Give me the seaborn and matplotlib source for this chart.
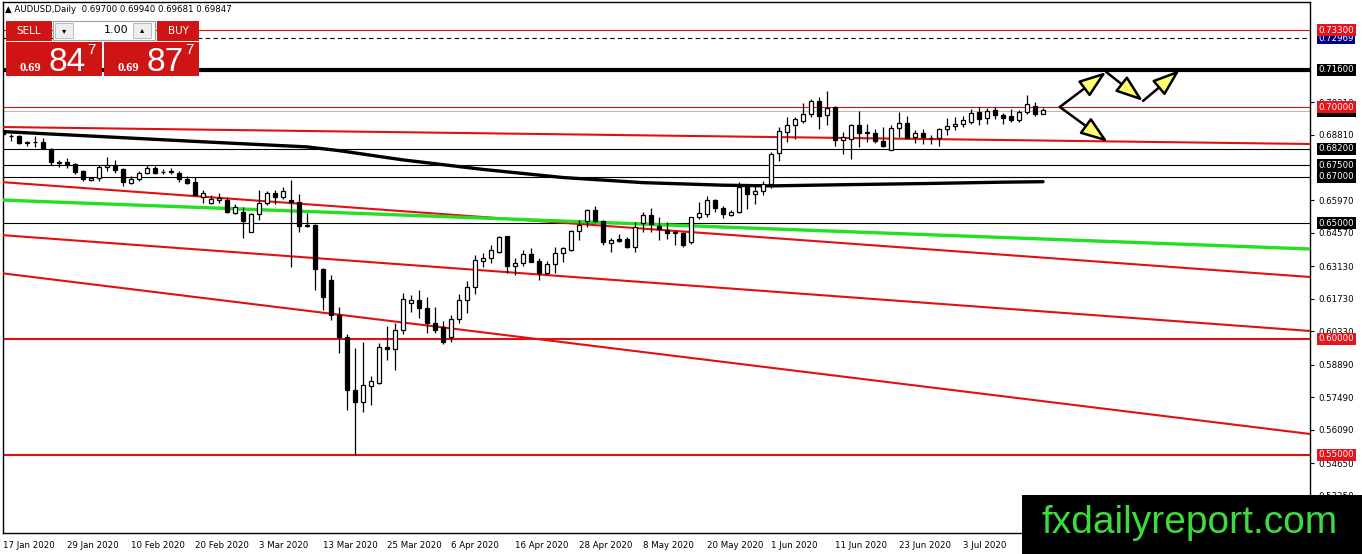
import numpy as np
import pandas as pd
import matplotlib
matplotlib.use("Agg")
import matplotlib.pyplot as plt
from matplotlib.patches import Rectangle
import seaborn as sns

# AUDUSD daily candles, 17 Jan 2020 -> 17 Jul 2020
opens = [0.6899, 0.6874, 0.6875, 0.6847, 0.6847, 0.6849, 0.6819, 0.6761, 0.6763, 0.6754,
         0.6724, 0.6684, 0.6694, 0.6741, 0.6747, 0.6733, 0.6671, 0.6688, 0.6714, 0.6738,
         0.6721, 0.6725, 0.6717, 0.6690, 0.6675, 0.6610, 0.6585, 0.6599, 0.6601, 0.6541,
         0.6549, 0.6463, 0.6538, 0.6588, 0.6631, 0.6614, 0.6599, 0.6592, 0.6493, 0.6491,
         0.6300, 0.6254, 0.6103, 0.6010, 0.5780, 0.5730, 0.5799, 0.5811, 0.5966, 0.5955,
         0.6039, 0.6154, 0.6168, 0.6132, 0.6070, 0.6053, 0.6010, 0.6085, 0.6168, 0.6226,
         0.6338, 0.6348, 0.6376, 0.6444, 0.6316, 0.6326, 0.6365, 0.6336, 0.6283, 0.6323,
         0.6369, 0.6384, 0.6466, 0.6509, 0.6556, 0.6510, 0.6412, 0.6430, 0.6430, 0.6398,
         0.6498, 0.6534, 0.6487, 0.6470, 0.6463, 0.6458, 0.6419, 0.6527, 0.6539, 0.6599,
         0.6563, 0.6535, 0.6546, 0.6657, 0.6624, 0.6636, 0.6667, 0.6800, 0.6894, 0.6922,
         0.6941, 0.6968, 0.7026, 0.6966, 0.7002, 0.6858, 0.6862, 0.6922, 0.6893, 0.6887,
         0.6853, 0.6815, 0.6908, 0.6930, 0.6869, 0.6887, 0.6866, 0.6865, 0.6904, 0.6918,
         0.6927, 0.6934, 0.6977, 0.6951, 0.6987, 0.6966, 0.6961, 0.6944, 0.6977, 0.7006,
         0.6970]
highs = [0.6905, 0.6884, 0.6880, 0.6855, 0.6875, 0.6866, 0.6822, 0.6772, 0.6781, 0.6758,
         0.6728, 0.6699, 0.6750, 0.6785, 0.6772, 0.6737, 0.6703, 0.6724, 0.6751, 0.6746,
         0.6733, 0.6736, 0.6724, 0.6703, 0.6698, 0.6642, 0.6621, 0.6631, 0.6610, 0.6580,
         0.6571, 0.6545, 0.6642, 0.6640, 0.6642, 0.6657, 0.6685, 0.6625, 0.6543, 0.6495,
         0.6305, 0.6276, 0.6138, 0.6023, 0.5961, 0.5987, 0.5840, 0.5981, 0.6058, 0.6069,
         0.6200, 0.6190, 0.6211, 0.6181, 0.6138, 0.6076, 0.6105, 0.6194, 0.6250, 0.6362,
         0.6369, 0.6405, 0.6444, 0.6446, 0.6349, 0.6384, 0.6393, 0.6349, 0.6336, 0.6396,
         0.6395, 0.6470, 0.6513, 0.6560, 0.6574, 0.6515, 0.6434, 0.6453, 0.6440, 0.6505,
         0.6549, 0.6563, 0.6526, 0.6505, 0.6466, 0.6462, 0.6528, 0.6590, 0.6616, 0.6603,
         0.6574, 0.6556, 0.6677, 0.6670, 0.6665, 0.6680, 0.6806, 0.6914, 0.6957, 0.6957,
         0.7016, 0.7034, 0.7043, 0.7069, 0.7006, 0.6893, 0.6925, 0.6983, 0.6925, 0.6905,
         0.6912, 0.6922, 0.6977, 0.6963, 0.6901, 0.6905, 0.6879, 0.6911, 0.6951, 0.6958,
         0.6963, 0.6991, 0.7001, 0.6994, 0.6999, 0.6973, 0.6991, 0.6986, 0.7053, 0.7020,
         0.6994]
lows = [0.6876, 0.6853, 0.6841, 0.6832, 0.6829, 0.6818, 0.6750, 0.6741, 0.6737, 0.6711,
        0.6681, 0.6679, 0.6681, 0.6724, 0.6716, 0.6660, 0.6667, 0.6683, 0.6711, 0.6711,
        0.6711, 0.6713, 0.6676, 0.6669, 0.6616, 0.6586, 0.6582, 0.6586, 0.6541, 0.6537,
        0.6434, 0.6460, 0.6513, 0.6578, 0.6582, 0.6603, 0.6312, 0.6462, 0.6484, 0.6211,
        0.6125, 0.6082, 0.5940, 0.5694, 0.5500, 0.5685, 0.5715, 0.5804, 0.5911, 0.5867,
        0.6021, 0.6115, 0.6089, 0.6024, 0.6024, 0.5979, 0.5988, 0.6070, 0.6110, 0.6194,
        0.6312, 0.6326, 0.6370, 0.6285, 0.6277, 0.6315, 0.6330, 0.6254, 0.6280, 0.6283,
        0.6333, 0.6380, 0.6427, 0.6482, 0.6505, 0.6404, 0.6376, 0.6420, 0.6393, 0.6376,
        0.6462, 0.6462, 0.6427, 0.6433, 0.6404, 0.6398, 0.6408, 0.6518, 0.6527, 0.6549,
        0.6522, 0.6531, 0.6541, 0.6560, 0.6584, 0.6620, 0.6650, 0.6769, 0.6849, 0.6862,
        0.6930, 0.6958, 0.6905, 0.6922, 0.6832, 0.6797, 0.6775, 0.6829, 0.6851, 0.6843,
        0.6826, 0.6815, 0.6872, 0.6865, 0.6843, 0.6839, 0.6839, 0.6832, 0.6879, 0.6901,
        0.6915, 0.6925, 0.6922, 0.6925, 0.6947, 0.6925, 0.6935, 0.6935, 0.6970, 0.6963,
        0.6968]
closes = [0.6884, 0.6876, 0.6845, 0.6846, 0.6849, 0.6825, 0.6762, 0.6759, 0.6750, 0.6721,
          0.6690, 0.6695, 0.6741, 0.6750, 0.6728, 0.6675, 0.6690, 0.6714, 0.6738, 0.6717,
          0.6718, 0.6719, 0.6689, 0.6674, 0.6621, 0.6628, 0.6603, 0.6609, 0.6546, 0.6570,
          0.6510, 0.6539, 0.6585, 0.6628, 0.6614, 0.6638, 0.6590, 0.6488, 0.6489, 0.6300,
          0.6182, 0.6103, 0.6010, 0.5780, 0.5730, 0.5802, 0.5819, 0.5966, 0.5955, 0.6039,
          0.6172, 0.6168, 0.6132, 0.6067, 0.6039, 0.5986, 0.6085, 0.6168, 0.6226, 0.6341,
          0.6348, 0.6384, 0.6441, 0.6315, 0.6326, 0.6365, 0.6333, 0.6283, 0.6322, 0.6369,
          0.6391, 0.6466, 0.6491, 0.6556, 0.6509, 0.6419, 0.6427, 0.6422, 0.6398, 0.6484,
          0.6534, 0.6496, 0.6476, 0.6455, 0.6455, 0.6405, 0.6525, 0.6541, 0.6599, 0.6563,
          0.6537, 0.6546, 0.6657, 0.6624, 0.6639, 0.6669, 0.6796, 0.6898, 0.6922, 0.6947,
          0.6968, 0.7026, 0.6963, 0.6997, 0.6858, 0.6872, 0.6922, 0.6889, 0.6887, 0.6853,
          0.6833, 0.6908, 0.6930, 0.6868, 0.6887, 0.6869, 0.6865, 0.6904, 0.6918, 0.6927,
          0.6944, 0.6973, 0.6947, 0.6983, 0.6966, 0.6951, 0.6944, 0.6977, 0.7012, 0.6969,
          0.6985]

date_labels = ["17 Jan 2020", "29 Jan 2020", "10 Feb 2020", "20 Feb 2020", "3 Mar 2020",
               "13 Mar 2020", "25 Mar 2020", "6 Apr 2020", "16 Apr 2020", "28 Apr 2020",
               "8 May 2020", "20 May 2020", "1 Jun 2020", "11 Jun 2020", "23 Jun 2020",
               "3 Jul 2020"]

# moving average (black curve), sampled at a few bars
ma_bar = [0, 12, 25, 38, 42, 50, 60, 70, 80, 90, 96, 105, 115, 125, 130]
ma_val = [0.6894, 0.6873, 0.6850, 0.6828, 0.6812, 0.6772, 0.6731, 0.6696, 0.6674,
          0.6663, 0.6660, 0.6665, 0.6670, 0.6676, 0.6678]

# trend lines: value at the left edge and at the right edge of the chart
trend_bars = [0, 163.4]
red_trend_start = [0.69136, 0.66759, 0.64474, 0.62828]
red_trend_end = [0.68405, 0.62672, 0.60345, 0.55905]
green_trend = [0.65987, 0.63879]

# horizontal levels
red_levels = [0.733, 0.700]
red_levels_thick = [0.600, 0.550]
black_levels = [0.682, 0.675, 0.670, 0.650]
thick_level = 0.716
ask_level = 0.72969
bid_level = 0.69847

# scenario arrows (bar, price)
path_up_bar = [132.1, 137.9, 142.5, 147.1]
path_up_val = [0.7000, 0.71509, 0.70259, 0.71595]
path_down_bar = [132.1, 138.1]
path_down_val = [0.7000, 0.68491]

price_ticks = [0.70210, 0.68810, 0.65970, 0.64570, 0.63130, 0.61730,
               0.60330, 0.58890, 0.57490, 0.56090, 0.54650, 0.53250]
tag_prices = [0.72969, 0.733, 0.716, 0.69847, 0.700, 0.682, 0.675, 0.670, 0.650, 0.600, 0.550]
tag_colors = ["#000080", "#e8141c", "black", "black", "#e8141c", "black", "black",
              "black", "black", "#e8141c", "#e8141c"]

sns.set_theme(style="white")
plt.rcParams["font.family"] = ["DejaVu Sans"]

W, H = 1362, 554
RED = "#e01010"


def fx(px):
    return px / W


def fy(py):
    return 1 - py / H


fig = plt.figure(figsize=(W / 100, H / 100), dpi=100)
fig.patch.set_facecolor("white")
ax = fig.add_axes([fx(3), fy(533), fx(1307), 531 / H])
ax.set_facecolor("white")

df = pd.DataFrame({"o": opens, "h": highs, "l": lows, "c": closes})
df["bar"] = np.arange(len(df))
up = df["c"] >= df["o"]

# levels and lines
for lv in red_levels:
    ax.axhline(lv, color=RED, lw=0.8, zorder=2)
for lv in red_levels_thick:
    ax.axhline(lv, color=RED, lw=1.5, zorder=2)
for lv in black_levels:
    ax.axhline(lv, color="black", lw=0.8, zorder=2)
ax.axhline(thick_level, color="black", lw=3, zorder=2)
ax.axhline(ask_level, color="black", lw=0.8, ls=(0, (4, 3)), zorder=2)
ax.axhline(bid_level, color="#b8b8b8", lw=0.8, zorder=2)

for s, e in zip(red_trend_start, red_trend_end):
    ax.plot(trend_bars, [s, e], color=RED, lw=1.5, zorder=3)
ax.plot(trend_bars, green_trend, color="#22e022", lw=2.4, zorder=3)

ma = pd.DataFrame({"bar": ma_bar, "val": ma_val})
sns.lineplot(data=ma, x="bar", y="val", color="black", lw=2.4, ax=ax, zorder=3)

# candles
ax.vlines(df["bar"], df["l"], df["h"], color="black", lw=0.9, zorder=4)
ax.bar(df["bar"][up], (df["c"] - df["o"])[up], bottom=df["o"][up], width=0.6,
       color="white", edgecolor="black", lw=0.9, zorder=5)
ax.bar(df["bar"][~up], (df["o"] - df["c"])[~up], bottom=df["c"][~up], width=0.6,
       color="black", edgecolor="black", lw=0.9, zorder=5)

# arrows
arrow_kw = dict(arrowstyle="-|>,head_length=1.4,head_width=0.5", fc="#ffff70",
                ec="black", lw=1.8, shrinkA=0, shrinkB=0, mutation_scale=12)
for bx, by in [(path_up_bar, path_up_val), (path_down_bar, path_down_val)]:
    for k in range(len(bx) - 1):
        ax.annotate("", xy=(bx[k + 1], by[k + 1]), xytext=(bx[k], by[k]),
                    arrowprops=arrow_kw, zorder=6)

ax.set_xlim(0, 163.375)
ax.set_ylim(0.516379, 0.745259)
ax.set_xlabel("")
ax.set_ylabel("")

ax.set_xticks(np.arange(len(date_labels)) * 8)
ax.set_xticklabels(date_labels, ha="left", fontsize=6.2)
ax.yaxis.tick_right()
ax.set_yticks(price_ticks)
ax.set_yticklabels([f"{v:.5f}" for v in price_ticks], fontsize=6.2)
ax.tick_params(axis="x", direction="out", length=4, width=0.8, pad=2, colors="black")
ax.tick_params(axis="y", direction="out", length=3, width=0.8, pad=3, colors="black")
for sp in ax.spines.values():
    sp.set_color("black")
    sp.set_linewidth(1)
ax.grid(False)

ytr = ax.get_yaxis_transform()
for p, col in zip(tag_prices, tag_colors):
    ax.text(1.0065, p, f"{p:.5f}", transform=ytr, fontsize=6.2, color="white",
            va="center", ha="left", clip_on=False, zorder=7,
            bbox=dict(boxstyle="square,pad=0.18", fc=col, ec="none"))

# header line
fig.text(fx(5), fy(9), "\u25b2 AUDUSD,Daily  0.69700 0.69940 0.69681 0.69847",
         fontsize=6.2, color="black", va="center", ha="left")

# one-click trading panel
panel_red = "#cf1414"


def box(x0, y0, x1, y1, fc, ec="none", lw=0):
    fig.patches.append(Rectangle((fx(x0), fy(y1)), fx(x1 - x0), (y1 - y0) / H,
                                 transform=fig.transFigure, fc=fc, ec=ec, lw=lw, zorder=5))


box(6, 21, 52, 41, panel_red)
box(157, 21, 199, 41, panel_red)
box(53, 21, 155, 40, "white", ec="#a0a0a0", lw=0.8)
box(55, 23, 73, 38, "#eeeeee", ec="#b0b0b0", lw=0.6)
box(133, 23, 151, 38, "#eeeeee", ec="#b0b0b0", lw=0.6)
box(6, 42, 102, 76, panel_red)
box(104, 42, 199, 76, panel_red)
fig.text(fx(29), fy(31), "SELL", fontsize=7.5, color="white", ha="center", va="center", zorder=6)
fig.text(fx(178), fy(31), "BUY", fontsize=7.5, color="white", ha="center", va="center", zorder=6)
fig.text(fx(64), fy(31), "\u25be", fontsize=6, color="black", ha="center", va="center", zorder=6)
fig.text(fx(142), fy(30), "\u25b4", fontsize=6, color="black", ha="center", va="center", zorder=6)
fig.text(fx(128), fy(30), "1.00", fontsize=8, color="black", ha="right", va="center", zorder=6)
for x0, big in [(6, "84"), (104, "87")]:
    fig.text(fx(x0 + 14), fy(71), "0.69", fontsize=9, fontweight="bold", color="white",
             family="Liberation Serif", ha="left", va="baseline", zorder=6)
    fig.text(fx(x0 + 43), fy(71), big, fontsize=24, color="white",
             family="Liberation Sans", ha="left", va="baseline", zorder=6)
    fig.text(fx(x0 + 81), fy(54), "7", fontsize=11, color="white",
             family="Liberation Sans", ha="left", va="baseline", zorder=6)

# watermark
fig.patches.append(Rectangle((fx(1022), 0), fx(W - 1022), 59 / H,
                             transform=fig.transFigure, fc="black", ec="none", zorder=5))
fig.text(fx(1190), fy(523), "fxdailyreport.com", fontsize=28, color="#3ddc3d",
         family="Liberation Sans", ha="center", va="center", zorder=6)

fig.savefig("out.png", dpi=100, facecolor="white")
